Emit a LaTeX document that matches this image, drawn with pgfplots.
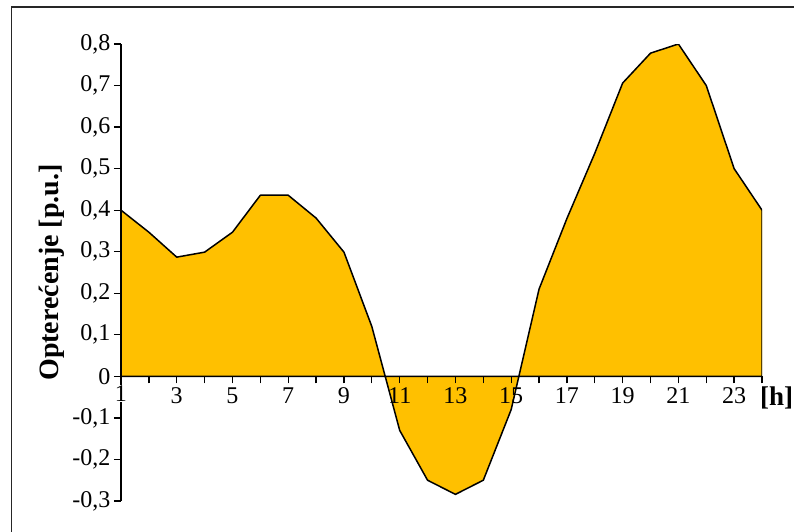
\documentclass[border=0pt]{standalone}
\usepackage{fontspec}
\setmainfont{Liberation Serif}
\usepackage{pgfplots}
\pgfplotsset{compat=1.18}
\definecolor{fillc}{HTML}{FFC000}
\begin{document}
\begin{tikzpicture}[x=1pt,y=1pt]
\begin{axis}[
  at={(0,0)}, anchor=south west,
  scale only axis, width=641pt, height=457pt,
  xmin=1, xmax=24, ymin=-0.3, ymax=0.8,
  axis x line=middle, axis y line=left,
  hide obscured x ticks=false,
  axis line style={-, line width=1.3pt},
  axis on top,
  xtick={1,...,24},
  xticklabels={,,3,,5,,7,,9,,11,,13,,15,,17,,19,,21,,23,},
  extra x ticks={1},
  extra x tick labels={1},
  extra x tick style={xticklabel style={fill=white, inner sep=1pt}},
  ytick={-0.3,-0.2,-0.1,0,0.1,0.2,0.3,0.4,0.5,0.6,0.7,0.8},
  tick align=outside,
  major tick length=7pt,
  tick style={black, line width=1.3pt},
  /pgf/number format/assume math mode=true,
  yticklabel style={/pgf/number format/.cd, fixed, precision=1, use comma},
  tick label style={font=\fontsize{24}{28}\selectfont},
  xticklabel style={yshift=-1pt},
  ylabel={\textbf{Opterećenje [p.u.]}},
  ylabel style={font=\fontsize{28}{32}\selectfont, at={(rel axis cs:-0.1076,0.5)}, anchor=center, rotate=0},
  xlabel={\textbf{[h]}},
  xlabel style={font=\fontsize{27}{32}\selectfont, at={(rel axis cs:1,0.226)}, anchor=west, inner sep=0pt, xshift=-2pt},
]
\addplot[fill=fillc, draw=black, line width=1.5pt, line join=round] coordinates {
  (1,0) (1,0.40) (2,0.347) (3,0.287) (4,0.299) (5,0.347) (6,0.436) (7,0.436)
  (8,0.381) (9,0.299) (10,0.12) (11,-0.13) (12,-0.25) (13,-0.284) (14,-0.25)
  (15,-0.08) (16,0.21) (17,0.38) (18,0.537) (19,0.706) (20,0.778) (21,0.80)
  (22,0.70) (23,0.50) (24,0.40) (24,0)
} -- cycle;
\end{axis}
\draw[line width=1.5pt, black!85] (-109.5,-40) -- (-109.5,494) -- (700,494);
\pgfresetboundingbox
\path[use as bounding box] (-121,-30) rectangle (673,501);
\end{tikzpicture}
\end{document}
